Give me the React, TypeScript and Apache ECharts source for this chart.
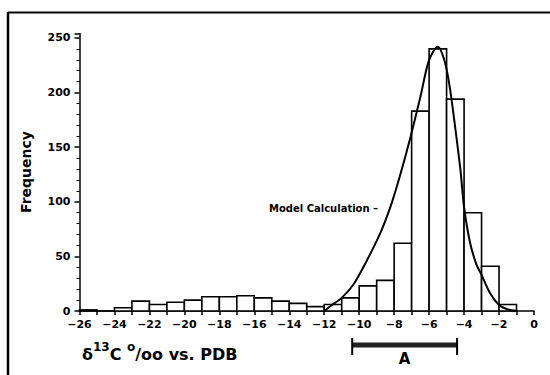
import React, { useEffect, useRef } from "react";
import * as echarts from "echarts";

// Histogram bins (left edge, width 1 ‰) and frequencies
const binStarts = [-26, -25, -24, -23, -22, -21, -20, -19, -18, -17, -16, -15, -14, -13, -12, -11, -10, -9, -8, -7, -6, -5, -4, -3, -2];
const frequencies = [1, 0, 3, 9, 6, 8, 10, 13, 13, 14, 12, 9, 7, 4, 6, 12, 23, 28, 62, 183, 240, 194, 90, 41, 6];

// Model calculation curve
const modelX = [-12, -11.6, -11, -10.3, -9.6, -8.8, -8.2, -7.7, -7.1, -6.5, -6.0, -5.5, -5.1, -4.8, -4.5, -4.2, -4.0, -3.65, -3.3, -3.0, -2.5, -2.0, -1.5, -1];
const modelY = [0, 5, 12, 25, 45, 71, 96, 122, 157, 196, 230, 242, 228, 203, 167, 128, 95, 62, 43, 33, 16, 5.5, 1.5, 0.3];

// Range "A"
const rangeA = [-10.4, -4.4];

const FONT = "DejaVu Sans";

export default function App() {
  const ref = useRef<HTMLDivElement>(null);
  useEffect(() => {
    document.body.style.margin = "0";
    const chart = echarts.init(ref.current!, null, { renderer: "svg" });
    const histData = binStarts.map((s, i) => [s, s + 1, frequencies[i]]);
    const curve = modelX.map((x, i) => [x, modelY[i]]);
    chart.setOption({
      animation: false,
      backgroundColor: "#fff",
      grid: { left: 79.5, right: 16, top: 33.6, bottom: 64 },
      xAxis: {
        type: "value",
        min: -26,
        max: 0,
        interval: 2,
        axisLine: { onZero: false, lineStyle: { color: "#000", width: 1.5 } },
        axisTick: { length: 4, lineStyle: { color: "#000", width: 1.5 } },
        minorTick: { show: true, splitNumber: 2, length: 4, lineStyle: { color: "#000", width: 1.5 } },
        splitLine: { show: false },
        axisLabel: {
          margin: 8,
          color: "#000",
          fontFamily: FONT,
          fontWeight: "bold",
          fontSize: 11,
          formatter: (v: number) => (v < 0 ? "\u2212" + Math.abs(v) : String(v)),
        },
      },
      yAxis: {
        type: "value",
        min: 0,
        max: 254,
        interval: 50,
        axisLine: { show: true, onZero: false, lineStyle: { color: "#000", width: 1.5 } },
        axisTick: { show: true, length: 5, lineStyle: { color: "#000", width: 1.5 } },
        minorTick: { show: true, splitNumber: 5, length: 3, lineStyle: { color: "#000", width: 1 } },
        splitLine: { show: false },
        axisLabel: {
          margin: 9,
          color: "#000",
          fontFamily: FONT,
          fontWeight: "bold",
          fontSize: 11,
          showMaxLabel: false,
        },
      },
      series: [
        {
          type: "custom",
          data: histData,
          encode: { x: [0, 1], y: 2 },
          renderItem: (params: any, api: any) => {
            const lo = api.value(0);
            const hi = api.value(1);
            const v = api.value(2);
            const p0 = api.coord([lo, v]);
            const p1 = api.coord([hi, 0]);
            return {
              type: "rect",
              shape: { x: p0[0], y: p0[1], width: p1[0] - p0[0], height: p1[1] - p0[1] },
              style: { fill: "#fff", stroke: "#000", lineWidth: 1.6 },
            };
          },
          z: 2,
        },
        {
          type: "line",
          data: curve,
          smooth: 0.3,
          showSymbol: false,
          lineStyle: { color: "#000", width: 2 },
          z: 3,
        },
      ],
    });

    const xa = chart.convertToPixel({ xAxisIndex: 0 }, rangeA[0]) as number;
    const xb = chart.convertToPixel({ xAxisIndex: 0 }, rangeA[1]) as number;

    chart.setOption({
      graphic: [
        { type: "line", shape: { x1: 8, y1: 12.5, x2: 550, y2: 12.5 }, style: { stroke: "#000", lineWidth: 2 } },
        { type: "line", shape: { x1: 8, y1: 12, x2: 8, y2: 375 }, style: { stroke: "#000", lineWidth: 2.5 } },
        {
          type: "text",
          x: 26,
          y: 172,
          rotation: Math.PI / 2,
          style: {
            text: "Frequency",
            fontFamily: FONT,
            fontWeight: "bold",
            fontSize: 14,
            fill: "#000",
            align: "center",
            verticalAlign: "middle",
          },
        },
        {
          type: "text",
          x: 82,
          y: 341,
          style: {
            text: "{m|δ}{s|13}{m|C }{s|o}{m|/oo vs. PDB}",
            fill: "#000",
            fontFamily: FONT,
            rich: {
              m: { fontFamily: FONT, fontSize: 16, fontWeight: "bold", lineHeight: 21, fill: "#000", verticalAlign: "bottom" },
              s: { fontFamily: FONT, fontSize: 12, fontWeight: "bold", lineHeight: 21, fill: "#000", verticalAlign: "top" },
            },
          },
        },
        {
          type: "text",
          x: 269,
          y: 208,
          style: {
            text: "Model Calculation \u2013",
            fontFamily: FONT,
            fontWeight: "bold",
            fontSize: 10,
            fill: "#000",
            verticalAlign: "middle",
          },
        },
        { type: "rect", shape: { x: xa, y: 342.5, width: xb - xa, height: 5 }, style: { fill: "#222" } },
        { type: "line", shape: { x1: xa, y1: 338, x2: xa, y2: 355 }, style: { stroke: "#000", lineWidth: 2 } },
        { type: "line", shape: { x1: xb, y1: 338, x2: xb, y2: 355 }, style: { stroke: "#000", lineWidth: 2 } },
        {
          type: "text",
          x: (xa + xb) / 2,
          y: 359,
          style: {
            text: "A",
            fontFamily: FONT,
            fontWeight: "bold",
            fontSize: 15,
            fill: "#000",
            align: "center",
            verticalAlign: "middle",
          },
        },
      ],
    });

    return () => chart.dispose();
  }, []);
  return <div ref={ref} style={{ width: 550, height: 375 }} />;
}
